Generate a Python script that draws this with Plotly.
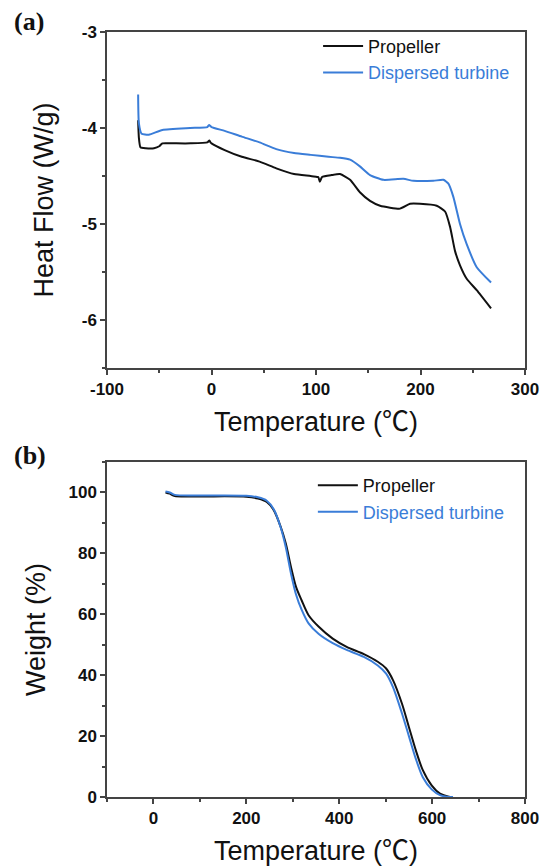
import plotly.graph_objects as go

# ---------------- DATA ----------------
# (a) DSC heat flow
dsc_prop_T = [-70.2, -69.5, -68, -63, -55, -50, -47, -37, -20, -4, -2, -1, 0, 12.6, 29, 46, 62, 79, 95,
              101, 102.2, 103.7, 105.8, 115, 123, 132.6, 142, 151.7, 161.3, 180.4, 190, 199.5, 215.5,
              223.5, 228.3, 233, 237.8, 244.2, 253.8, 267.5]
dsc_prop_H = [-3.92, -4.10, -4.20, -4.21, -4.21, -4.19, -4.16, -4.16, -4.16, -4.15, -4.13, -4.15, -4.16,
              -4.23, -4.30, -4.35, -4.42, -4.48, -4.50, -4.51, -4.51, -4.56, -4.51, -4.49, -4.48, -4.54,
              -4.67, -4.76, -4.81, -4.84, -4.79, -4.79, -4.81, -4.87, -5.03, -5.28, -5.43, -5.57, -5.69,
              -5.88]

dsc_turb_T = [-70.2, -69.5, -66.9, -60, -47, -20.5, -4, -2.3, 0, 12.6, 29, 46, 62, 79, 95, 112, 123,
              132.6, 142, 151.7, 164.5, 183.6, 193.2, 212.3, 221.9, 226.7, 231.5, 237.8, 244.2, 253.8,
              267.5]
dsc_turb_H = [-3.65, -3.95, -4.06, -4.07, -4.02, -4.00, -3.99, -3.97, -3.99, -4.03, -4.09, -4.15, -4.22,
              -4.26, -4.28, -4.30, -4.31, -4.33, -4.40, -4.49, -4.54, -4.53, -4.55, -4.55, -4.54, -4.58,
              -4.72, -5.00, -5.21, -5.45, -5.61]

# (b) TGA weight
tga_prop_T = [26, 35, 46, 100, 200, 225, 244, 259, 274, 285, 296, 307, 319, 334, 356, 386, 416, 453, 483,
              501, 516, 535, 550, 565, 580, 599, 617, 636, 645]
tga_prop_W = [100.0, 99.6, 98.8, 98.7, 98.6, 98.0, 96.9, 94.2, 88.7, 83.2, 75.6, 69.0, 64.6, 59.7, 55.9,
              52.0, 49.3, 46.9, 44.4, 42.2, 38.3, 30.7, 23.0, 15.3, 8.8, 3.8, 1.1, 0.1, 0.0]

tga_turb_T = [26, 35, 46, 100, 200, 225, 244, 259, 274, 285, 296, 307, 319, 334, 356, 386, 416, 453, 483,
              501, 516, 535, 550, 565, 580, 599, 617, 636, 645]
tga_turb_W = [100.3, 100.0, 99.2, 99.0, 98.9, 98.4, 97.3, 94.5, 88.5, 82.0, 73.5, 66.5, 61.5, 57.0, 53.5,
              50.5, 48.3, 46.0, 43.2, 40.5, 36.0, 27.5, 20.0, 12.5, 6.5, 2.5, 0.6, 0.0, 0.0]

series_names = ["Propeller", "Dispersed turbine"]

xa_tickvals = [-100, 0, 100, 200, 300]
xa_ticktext = ["-100", "0", "100", "200", "300"]
ya_tickvals = [-6, -5, -4, -3]
ya_ticktext = ["-6", "-5", "-4", "-3"]
xb_tickvals = [0, 200, 400, 600, 800]
xb_ticktext = ["0", "200", "400", "600", "800"]
yb_tickvals = [0, 20, 40, 60, 80, 100]
yb_ticktext = ["0", "20", "40", "60", "80", "100"]

# ---------------- STYLE ----------------
BLACK = "#111111"
BLUE = "#3a7dd8"
AXIS = "#444444"
SANS = "Arial, 'Liberation Sans', 'Noto Sans CJK SC', sans-serif"
SERIF = "'Times New Roman', 'Liberation Serif', serif"
DEG_C = "<span style=\"font-family:'Noto Sans CJK SC'\">℃</span>"
X_TITLE = f"Temperature ({DEG_C})"

fig = go.Figure()

fig.add_trace(go.Scatter(x=dsc_prop_T, y=dsc_prop_H, mode="lines", name=series_names[0],
                         line=dict(color=BLACK, width=2, shape="spline", smoothing=0.5),
                         xaxis="x", yaxis="y", legend="legend"))
fig.add_trace(go.Scatter(x=dsc_turb_T, y=dsc_turb_H, mode="lines",
                         name=f"<span style='color:{BLUE}'>{series_names[1]}</span>",
                         line=dict(color=BLUE, width=2, shape="spline", smoothing=0.5),
                         xaxis="x", yaxis="y", legend="legend"))
fig.add_trace(go.Scatter(x=tga_prop_T, y=tga_prop_W, mode="lines", name=series_names[0],
                         line=dict(color=BLACK, width=2, shape="spline", smoothing=0.8),
                         xaxis="x2", yaxis="y2", legend="legend2"))
fig.add_trace(go.Scatter(x=tga_turb_T, y=tga_turb_W, mode="lines",
                         name=f"<span style='color:{BLUE}'>{series_names[1]}</span>",
                         line=dict(color=BLUE, width=2, shape="spline", smoothing=0.8),
                         xaxis="x2", yaxis="y2", legend="legend2"))

tickfont = dict(family=SANS, size=17, color="#111111", weight="bold")
titlefont = dict(family=SANS, size=27, color="#111111")

common_axis = dict(showline=True, linecolor=AXIS, linewidth=1.5, mirror=True, ticks="outside",
                   ticklen=5, tickwidth=1.5, tickcolor=AXIS, showgrid=False, zeroline=False,
                   tickfont=tickfont)

fig.update_layout(
    width=543, height=868, autosize=False,
    paper_bgcolor="white", plot_bgcolor="white",
    margin=dict(l=107, r=18, t=32, b=71, autoexpand=False),
    xaxis=dict(domain=[0, 1], anchor="y", range=[-100, 300], tickvals=xa_tickvals, ticktext=xa_ticktext,
               minor=dict(ticks="outside", dtick=50, tick0=-100, ticklen=3, tickcolor=AXIS, tickwidth=1.5),
               title=dict(text=X_TITLE, font=titlefont, standoff=14), **common_axis),
    yaxis=dict(domain=[0.5608, 1], anchor="x", range=[-6.5, -3], tickvals=ya_tickvals, ticktext=ya_ticktext,
               minor=dict(ticks="outside", dtick=0.5, tick0=-6.5, ticklen=3, tickcolor=AXIS, tickwidth=1.5),
               title=dict(text="Heat Flow (W/g)", font=titlefont, standoff=20), **common_axis),
    xaxis2=dict(domain=[0, 1], anchor="y2", range=[-100, 800], tickvals=xb_tickvals, ticktext=xb_ticktext,
                minor=dict(ticks="outside", dtick=100, tick0=-100, ticklen=3, tickcolor=AXIS, tickwidth=1.5),
                title=dict(text=X_TITLE, font=titlefont, standoff=15), **common_axis),
    yaxis2=dict(domain=[0, 0.4379], anchor="x2", range=[0, 110], tickvals=yb_tickvals, ticktext=yb_ticktext,
                minor=dict(ticks="outside", dtick=10, tick0=0, ticklen=3, tickcolor=AXIS, tickwidth=1.5),
                title=dict(text="Weight (%)", font=titlefont, standoff=15), **common_axis),
    legend=dict(x=0.505, y=1.0055, xanchor="left", yanchor="top", bgcolor="rgba(0,0,0,0)",
                font=dict(family=SANS, size=18, color="#111111"), tracegroupgap=0,
                itemwidth=40),
    legend2=dict(x=0.4925, y=0.4313, xanchor="left", yanchor="top", bgcolor="rgba(0,0,0,0)",
                 font=dict(family=SANS, size=18, color="#111111"), tracegroupgap=0,
                 itemwidth=40),
    showlegend=True,
)

fig.add_annotation(text="<b>(a)</b>", xref="paper", yref="paper", x=-0.227, y=1.0131, xanchor="left",
                   yanchor="middle", showarrow=False, font=dict(family=SERIF, size=26, color="#111111"))
fig.add_annotation(text="<b>(b)</b>", xref="paper", yref="paper", x=-0.227, y=0.447, xanchor="left",
                   yanchor="middle", showarrow=False, font=dict(family=SERIF, size=26, color="#111111"))

fig.write_html("out.html", config={"displayModeBar": False},
               post_script="document.body.style.margin='0';document.body.style.overflow='hidden';")
